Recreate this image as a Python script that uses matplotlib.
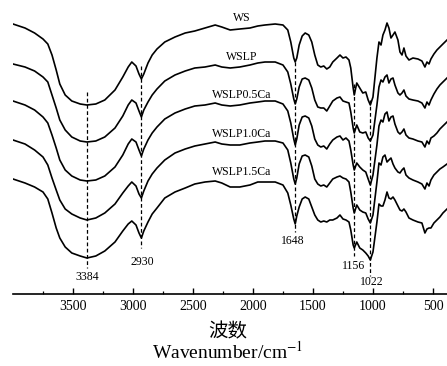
import matplotlib
matplotlib.use("Agg")
import matplotlib.pyplot as plt

plt.rcParams['font.family'] = ['Liberation Serif', 'DejaVu Serif']
plt.rcParams['mathtext.fontset'] = 'stix'

# wavenumber grid (cm-1)
wavenumber = [4000, 3900, 3820, 3750, 3710, 3675, 3640, 3610, 3565, 3510,
              3440, 3384, 3310, 3235, 3150, 3085, 3040, 3010, 2975, 2950,
              2930, 2910, 2875, 2840, 2800, 2735, 2650, 2565, 2485, 2400,
              2315, 2260, 2190, 2110, 2025, 1960, 1900, 1815, 1750, 1710,
              1685, 1660, 1648, 1635, 1615, 1590, 1565, 1535, 1510, 1485,
              1460, 1435, 1410, 1385, 1360, 1335, 1300, 1275, 1250, 1225,
              1200, 1185, 1165, 1156, 1135, 1110, 1085, 1060, 1040, 1022,
              1000, 967, 950, 933, 917, 900, 883, 867, 850, 833,
              817, 792, 775, 758, 742, 725, 700, 667, 625, 592,
              567, 550, 533, 517, 492, 467, 442, 417, 383]

# stacked spectra, offset units (larger = further down the stack)
ws = [24, 28, 33, 39, 44, 55, 70, 84, 95, 101,
      104, 105, 104, 100, 90, 77, 67, 62, 66, 74,
      79, 74, 63, 55, 49, 42, 37, 33, 31, 28,
      25, 27, 30, 29, 28, 26, 25, 24, 25, 30,
      42, 58, 62, 58, 45, 36, 33, 35, 42, 55,
      65, 67, 66, 69, 67, 62, 58, 55, 58, 57,
      60, 68, 88, 95, 83, 88, 93, 92, 100, 105,
      97, 58, 42, 45, 35, 30, 23, 28, 38, 35,
      32, 40, 52, 55, 48, 56, 60, 58, 59, 61,
      67, 62, 64, 59, 54, 50, 47, 44, 40]

wslp = [64, 67, 71, 77, 82, 95, 108, 120, 130, 137,
        141, 142, 141, 137, 128, 116, 105, 100, 103, 111,
        117, 110, 102, 95, 89, 81, 75, 71, 68, 67,
        65, 67, 68, 67, 65, 63, 62, 62, 65, 72,
        84, 99, 104, 99, 87, 79, 78, 80, 88, 100,
        107, 108, 108, 111, 106, 101, 98, 97, 101, 102,
        103, 112, 128, 133, 125, 132, 133, 132, 138, 141,
        135, 105, 87, 80, 82, 77, 75, 83, 79, 78,
        85, 93, 95, 93, 90, 96, 99, 100, 101, 103,
        108, 102, 105, 100, 94, 89, 85, 82, 78]

wslp_05ca = [101, 105, 110, 117, 123, 135, 148, 160, 170, 176,
             180, 181, 180, 176, 167, 155, 144, 139, 142, 150,
             156, 149, 140, 133, 127, 119, 113, 109, 106, 105,
             103, 105, 106, 105, 103, 102, 101, 101, 104, 111,
             123, 139, 145, 139, 125, 117, 116, 118, 126, 139,
             145, 147, 146, 149, 144, 140, 137, 136, 140, 138,
             141, 150, 165, 170, 163, 167, 170, 172, 179, 185,
             175, 145, 126, 120, 122, 114, 112, 121, 117, 116,
             124, 132, 134, 132, 129, 135, 138, 139, 141, 142,
             147, 141, 144, 138, 136, 133, 129, 126, 122]

wslp_10ca = [140, 144, 150, 157, 165, 178, 190, 200, 209, 214,
             218, 220, 218, 213, 204, 193, 186, 182, 186, 194,
             198, 191, 181, 174, 168, 160, 153, 149, 146, 144,
             142, 144, 145, 145, 143, 142, 141, 141, 143, 150,
             163, 179, 184, 178, 164, 156, 155, 157, 166, 179,
             184, 186, 185, 187, 183, 179, 177, 176, 178, 179,
             182, 192, 208, 213, 205, 210, 212, 213, 219, 223,
             215, 182, 163, 165, 157, 155, 162, 160, 158, 164,
             168, 172, 173, 170, 168, 175, 178, 180, 182, 184,
             189, 183, 186, 180, 175, 172, 169, 167, 164]

wslp_15ca = [179, 183, 187, 192, 199, 213, 228, 238, 247, 253,
             256, 258, 256, 251, 242, 231, 224, 221, 225, 233,
             238, 231, 222, 214, 208, 198, 192, 188, 184, 182,
             181, 183, 187, 187, 185, 182, 182, 182, 185, 193,
             205, 219, 224, 216, 207, 199, 197, 199, 207, 215,
             220, 222, 221, 222, 220, 220, 218, 215, 219, 220,
             222, 230, 245, 248, 242, 248, 250, 253, 256, 260,
             252, 222, 204, 206, 206, 200, 192, 198, 199, 197,
             200, 206, 210, 211, 209, 212, 218, 220, 222, 223,
             233, 229, 228, 228, 223, 220, 217, 213, 209]

series = [ws, wslp, wslp_05ca, wslp_10ca, wslp_15ca]
names = ['WS', 'WSLP', 'WSLP0.5Ca', 'WSLP1.0Ca', 'WSLP1.5Ca']

peaks = [3384, 2930, 1648, 1156, 1022]
peak_labels = ['3384', '2930', '1648', '1156', '1022']

fig = plt.figure(figsize=(4.47, 3.66), dpi=100)
ax = fig.add_axes([13 / 447, 72 / 366, 434 / 447, 294 / 366])

for y in series:
    ax.plot(wavenumber, y, color='black', lw=1.2)

# curve names above each trace
name_y = [18, 57, 95, 134, 172]
for n, yy in zip(names, name_y):
    ax.text(2092, yy, n, ha='center', va='center', fontsize=8.5)

# dashed guide lines at the marked bands
line_top = [92, 66, 62, 84, 100]
line_bot = [268, 248, 232, 256, 276]
for wn, t, b in zip(peaks, line_top, line_bot):
    ax.plot([wn, wn], [t, b], color='black', lw=0.9, ls=(0, (3, 2)))

lab_x = [3384, 2922, 1665, 1165, 1008]
lab_y = [277, 262, 241, 266, 282]
for lab, lx, ly in zip(peak_labels, lab_x, lab_y):
    ax.text(lx, ly, lab, ha='center', va='center', fontsize=8.5)

ax.set_xlim(4000, 383)
ax.set_ylim(294, 0)

for s in ['top', 'left', 'right']:
    ax.spines[s].set_visible(False)
ax.spines['bottom'].set_linewidth(1.2)
ax.set_yticks([])
ax.set_xticks([3500, 3000, 2500, 2000, 1500, 1000, 500])
ax.set_xticks([3750, 3250, 2750, 2250, 1750, 1250, 750], minor=True)
ax.tick_params(axis='x', which='major', direction='in', length=4, width=1, labelsize=10, pad=4)
ax.tick_params(axis='x', which='minor', direction='in', length=2.5, width=0.9)

fig.text(228 / 447, 1 - 332 / 366, '波数', ha='center', va='center', fontsize=14,
         family=['Noto Sans CJK SC', 'DejaVu Sans'])
fig.text(228 / 447, 1 - 352 / 366, 'Wavenumber/cm$^{-1}$', ha='center', va='center', fontsize=14)

fig.savefig('out.png', dpi=100)
